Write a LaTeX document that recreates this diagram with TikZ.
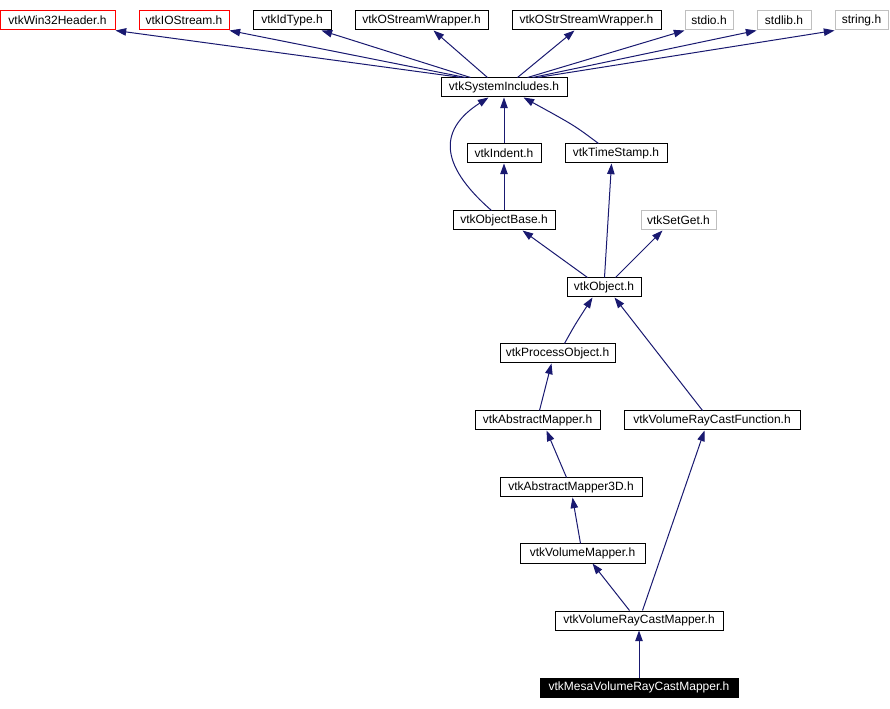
\documentclass[tikz,border=0pt]{standalone}
\usepackage{fontspec}
\setmainfont{Liberation Sans}
\usetikzlibrary{arrows.meta,calc}
\definecolor{edgecol}{HTML}{191970}
\definecolor{graybd}{HTML}{BFBFBF}
\tikzset{
  hbox/.style={draw=black, line width=0.75pt, fill=white, inner sep=0pt,
    minimum height=14.25pt, font=\fontsize{9pt}{10pt}\selectfont, anchor=center},
  redbox/.style={hbox, draw=red},
  graybox/.style={hbox, draw=graybd},
  mainbox/.style={hbox, fill=black, text=white},
  edge/.style={draw=edgecol, line width=0.75pt,
    -{Triangle[length=8pt,width=5.6pt]}},
}
\begin{document}
\begin{tikzpicture}[x=0.75pt,y=-0.75pt]
\useasboundingbox (0,0) rectangle (890,709);
% top row
\node[redbox, minimum width=86.25pt] (w32) at (57.5,20.5) {vtkWin32Header.h};
\node[redbox, minimum width=67.5pt] (ios) at (184,20.5) {vtkIOStream.h};
\node[hbox, minimum width=58.5pt] (idt) at (292,20.5) {vtkIdType.h};
\node[hbox, minimum width=99.75pt] (osw) at (421.5,20.5) {vtkOStreamWrapper.h};
\node[hbox, minimum width=111.75pt] (ossw) at (586.5,20.5) {vtkOStrStreamWrapper.h};
\node[graybox, minimum width=36pt] (stdio) at (709,20.5) {stdio.h};
\node[graybox, minimum width=40.5pt] (stdlib) at (784,20.5) {stdlib.h};
\node[graybox, minimum width=39.75pt] (string) at (861.5,20.5) {string.h};
% middle
\node[hbox, minimum width=94.5pt] (sys) at (504,87.5) {vtkSystemIncludes.h};
\node[hbox, minimum width=55.5pt] (ind) at (504,153.5) {vtkIndent.h};
\node[hbox, minimum width=76.5pt] (ts) at (616,153.5) {vtkTimeStamp.h};
\node[hbox, minimum width=76.5pt] (ob) at (504,220.5) {vtkObjectBase.h};
\node[graybox, minimum width=56.25pt] (sg) at (678.5,220.5) {vtkSetGet.h};
\node[hbox, minimum width=55.5pt] (obj) at (604,287.5) {vtkObject.h};
\node[hbox, minimum width=86.25pt] (po) at (557.5,353.5) {vtkProcessObject.h};
\node[hbox, minimum width=93.75pt] (am) at (537.5,420.5) {vtkAbstractMapper.h};
\node[hbox, minimum width=132pt] (vrcf) at (712,420.5) {vtkVolumeRayCastFunction.h};
\node[hbox, minimum width=106.5pt] (am3) at (571,487.5) {vtkAbstractMapper3D.h};
\node[hbox, minimum width=93.75pt] (vm) at (582.5,553.5) {vtkVolumeMapper.h};
\node[hbox, minimum width=126pt] (vrcm) at (639,620.5) {vtkVolumeRayCastMapper.h};
\node[mainbox, minimum width=148.5pt] (mesa) at (639,687.5) {vtkMesaVolumeRayCastMapper.h};
% edges to top row
\draw[edge] ($(sys.north west)+(21,0)$) -- ($(w32.south west)+(116,0)$);
\draw[edge] ($(sys.north west)+(25,0)$) -- ($(ios.south west)+(91,0)$);
\draw[edge] ($(sys.north west)+(30,0)$) -- ($(idt.south west)+(69,0)$);
\draw[edge] ($(sys.north west)+(47,0)$) -- ($(osw.south west)+(79,0)$);
\draw[edge] ($(sys.north west)+(77,0)$) -- ($(ossw.south west)+(63,0)$);
\draw[edge] ($(sys.north west)+(87,0)$) -- ($(stdio.south west)+(0,0)$);
\draw[edge] ($(sys.north west)+(92,0)$) -- ($(stdlib.south west)+(0,0)$);
\draw[edge] ($(sys.north west)+(97,0)$) -- ($(string.south west)+(0,0)$);
% middle edges
\draw[edge] (ind.north) -- (sys.south);
\draw[edge] ($(ts.north west)+(34,0)$) .. controls ($(ts.north west)+(10,-18)$) .. ($(sys.south west)+(83,0)$);
\draw[edge] ($(ob.north west)+(39,0)$) .. controls (436,162) and (441,128) .. ($(sys.south west)+(48,0)$);
\draw[edge] (ob.north) -- (ind.south);
\draw[edge] ($(obj.north west)+(21,0)$) -- ($(ob.south west)+(70,0)$);
\draw[edge] ($(obj.north west)+(38,0)$) -- ($(ts.south west)+(47,0)$);
\draw[edge] ($(obj.north west)+(49,0)$) -- ($(sg.south west)+(22,0)$);
\draw[edge] ($(po.north west)+(65,0)$) .. controls ($(po.north west)+(75,-18)$) .. ($(obj.south west)+(26,0)$);
\draw[edge] ($(vrcf.north west)+(79,0)$) -- ($(obj.south west)+(48,0)$);
\draw[edge] ($(am.north west)+(65,0)$) -- ($(po.south west)+(52,0)$);
\draw[edge] ($(am3.north west)+(67,0)$) -- ($(am.south west)+(72,0)$);
\draw[edge] ($(vm.north west)+(61,0)$) -- ($(am3.south west)+(73,0)$);
\draw[edge] ($(vrcm.north west)+(75,0)$) -- ($(vm.south west)+(73,0)$);
\draw[edge] ($(vrcm.north west)+(88,0)$) -- ($(vrcf.south west)+(81,0)$);
\draw[edge] (mesa.north) -- (vrcm.south);
\end{tikzpicture}
\end{document}
